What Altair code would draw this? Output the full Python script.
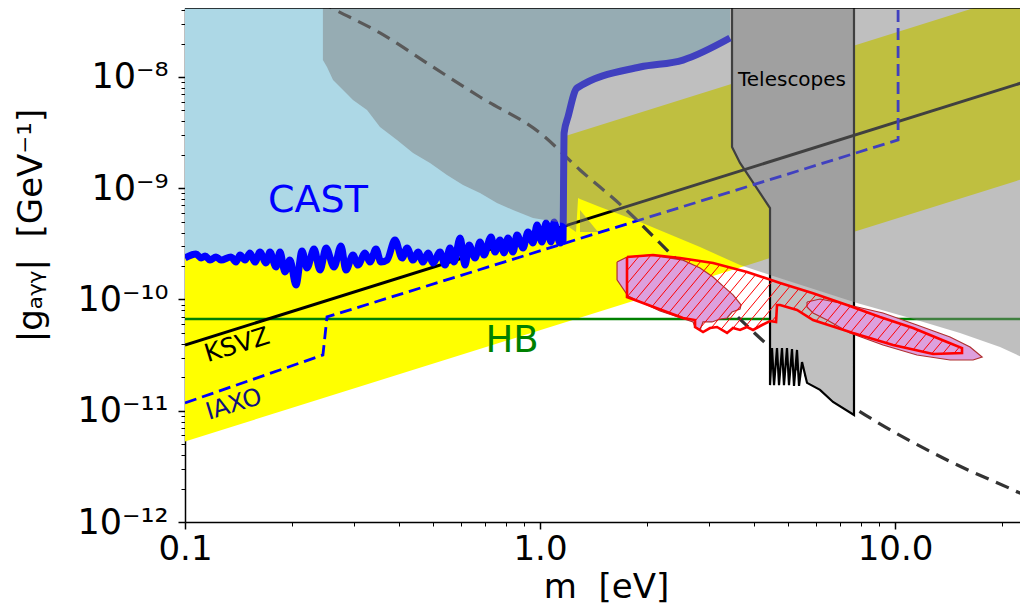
import numpy as np
import pandas as pd
import altair as alt

# ---------------- data (m in eV, g in GeV^-1) ----------------
qcd_m = [0.1, 30.0]
qcd_lo = [5.3e-12, 1.59e-9]
qcd_hi = [2.5e-10, 7.5e-8]

ksvz_m = [0.1, 30.0]
ksvz_g = [3.9e-11, 1.17e-8]

hb_m = [0.1, 30.0]
hb_g = [6.68e-11, 6.68e-11]

iaxo_m = [0.1, 0.2446, 0.2512, 10.2, 10.2]
iaxo_g = [1.175e-11, 3.17e-11, 6.97e-11, 2.72e-9, 1e-7]

cast_limit = [
    (0.1000, 2.36e-10), (0.1074, 2.56e-10), (0.1110, 2.36e-10), (0.1139, 2.46e-10),
    (0.1176, 2.26e-10), (0.1223, 2.41e-10), (0.1263, 2.26e-10), (0.1348, 2.41e-10),
    (0.1392, 2.17e-10), (0.1429, 2.51e-10), (0.1476, 2.26e-10), (0.1524, 2.62e-10),
    (0.1574, 2.17e-10), (0.1626, 2.67e-10), (0.1691, 2.13e-10), (0.1735, 2.67e-10),
    (0.1804, 1.96e-10), (0.1852, 2.67e-10), (0.1912, 1.77e-10), (0.1975, 2.26e-10),
    (0.2054, 1.35e-10), (0.2136, 2.73e-10), (0.2207, 1.92e-10), (0.2309, 2.84e-10),
    (0.2401, 1.84e-10), (0.2496, 2.90e-10), (0.2629, 1.96e-10), (0.2750, 3.03e-10),
    (0.2841, 1.84e-10), (0.2973, 2.51e-10), (0.3071, 2.04e-10), (0.3214, 2.62e-10),
    (0.3320, 2.17e-10), (0.3451, 2.84e-10), (0.3565, 2.17e-10), (0.3707, 2.26e-10),
    (0.3904, 3.43e-10), (0.4087, 2.36e-10), (0.4222, 2.90e-10), (0.4389, 2.26e-10),
    (0.4533, 2.67e-10), (0.4683, 2.17e-10), (0.4837, 2.62e-10), (0.4996, 2.13e-10),
    (0.5228, 2.67e-10), (0.5401, 2.04e-10), (0.5579, 2.90e-10), (0.5726, 2.17e-10),
    (0.5954, 3.57e-10), (0.6150, 2.04e-10), (0.6310, 3.09e-10), (0.6560, 2.36e-10),
    (0.6776, 3.29e-10), (0.6954, 2.51e-10), (0.7278, 3.65e-10), (0.7470, 2.67e-10),
    (0.7717, 3.43e-10), (0.7918, 2.62e-10), (0.8125, 3.57e-10), (0.8393, 2.67e-10),
    (0.8614, 3.80e-10), (0.8957, 2.90e-10), (0.9252, 4.04e-10), (0.9556, 3.22e-10),
    (0.9807, 4.67e-10), (1.013, 3.29e-10), (1.040, 4.87e-10), (1.074, 3.29e-10),
    (1.095, 4.97e-10), (1.138, 3.22e-10), (1.161, 3.43e-10), (1.165, 1.11e-9),
    (1.169, 3.14e-9), (1.199, 4.37e-9), (1.271, 7.96e-9), (1.913, 1.23e-8),
    (2.528, 1.42e-8), (3.429, 2.24e-8),
]

hdm_limit = [
    (0.211, 6.05e-8), (0.2528, 4.35e-8), (0.3542, 2.49e-8), (0.4996, 1.23e-8),
    (0.6776, 6.61e-9), (1.0, 3.14e-9), (1.296, 1.46e-9), (1.713, 6.79e-10),
    (2.480, 2.13e-10), (3.278, 9.30e-11), (4.445, 3.74e-11), (7.816, 1.02e-11),
    (14.01, 3.61e-12), (23.7, 1.68e-12), (27.3, 1.34e-12),
]

gray_main = [
    (0.2446, 7.45e-8), (37.8, 7.45e-8), (37.8, 1.70e-11), (23.7, 2.86e-11),
    (19.76, 3.74e-11), (15.24, 5.00e-11), (11.02, 6.82e-11), (7.816, 9.30e-11),
    (4.445, 1.66e-10), (3.659, 2.04e-10), (2.823, 2.96e-10), (1.913, 4.97e-10),
    (1.476, 6.79e-10), (1.296, 8.01e-10), (1.280, 8.17e-10), (1.263, 4.05e-10),
    (1.161, 4.87e-10), (0.9556, 5.40e-10), (0.8393, 6.37e-10), (0.7565, 7.37e-10),
    (0.6776, 9.06e-10), (0.6070, 1.07e-9), (0.547, 1.315e-9), (0.490, 1.69e-9),
    (0.4389, 2.07e-9), (0.3956, 2.72e-9), (0.3542, 3.56e-9), (0.3256, 5.05e-9),
    (0.2973, 6.21e-9), (0.2787, 7.64e-9), (0.2612, 9.40e-9), (0.2512, 1.23e-8),
    (0.2446, 1.42e-8),
]
gray_small = [(1.296, 6.37e-10), (1.457, 4.05e-10), (1.296, 4.05e-10)]

telescopes = [
    (3.474, 7.45e-8), (3.474, 2.35e-9), (3.659, 1.69e-9), (4.445, 6.64e-10),
    (4.445, 1.70e-11), (4.503, 3.66e-11), (4.562, 1.70e-11), (4.651, 3.66e-11),
    (4.712, 1.70e-11), (4.804, 3.66e-11), (4.866, 1.70e-11), (4.962, 3.66e-11),
    (5.027, 1.70e-11), (5.126, 3.59e-11), (5.193, 1.67e-11), (5.295, 3.52e-11),
    (5.365, 1.67e-11), (5.470, 2.74e-11), (5.651, 1.78e-11), (6.148, 1.54e-11),
    (6.689, 1.20e-11), (7.663, 9.16e-12), (7.663, 7.45e-8),
]

pink_1 = [
    (1.648, 2.17e-10), (1.758, 2.41e-10), (2.041, 2.51e-10), (2.528, 2.26e-10),
    (2.823, 1.92e-10), (3.072, 1.59e-10), (3.278, 1.32e-10), (3.497, 1.10e-10),
    (3.683, 8.93e-11), (3.659, 8.21e-11), (3.474, 7.72e-11), (3.364, 6.82e-11),
    (3.214, 6.68e-11), (3.052, 6.28e-11), (2.879, 6.28e-11), (2.823, 5.32e-11),
    (2.733, 5.66e-11), (2.698, 6.28e-11), (2.178, 7.88e-11), (1.770, 1.075e-10),
    (1.648, 1.50e-10),
]
pink_2 = [
    (5.651, 9.49e-11), (6.148, 1.01e-10), (7.00, 9.30e-11), (9.25, 7.56e-11),
    (11.53, 5.90e-11), (14.29, 4.60e-11), (16.27, 3.74e-11), (17.59, 3.04e-11),
    (16.59, 2.86e-11), (14.29, 2.86e-11), (11.53, 3.17e-11), (9.25, 3.90e-11),
    (7.468, 5.00e-11), (6.435, 6.54e-11), (5.875, 7.56e-11), (5.651, 8.56e-11),
]
hatched_region = [
    (1.758, 2.41e-10), (2.081, 2.51e-10), (2.480, 2.36e-10), (3.072, 2.13e-10),
    (3.829, 1.77e-10), (4.743, 1.41e-10), (5.875, 1.14e-10), (7.324, 8.93e-11),
    (9.07, 6.96e-11), (11.24, 5.54e-11), (14.01, 4.15e-11), (15.44, 3.66e-11),
    (15.44, 3.30e-11), (12.80, 3.24e-11), (9.87, 3.90e-11), (7.614, 5.00e-11),
    (5.875, 6.54e-11), (5.295, 8.05e-11), (4.743, 8.93e-11), (4.651, 8.93e-11),
    (4.622, 6.28e-11), (4.445, 6.41e-11), (4.221, 5.90e-11), (3.981, 5.32e-11),
    (3.829, 5.66e-11), (3.659, 5.32e-11), (3.497, 5.54e-11), (3.364, 5.00e-11),
    (3.151, 5.66e-11), (3.012, 5.54e-11), (2.879, 5.10e-11), (2.733, 5.66e-11),
    (2.733, 6.54e-11), (2.528, 6.82e-11), (1.758, 1.053e-10),
]

label_texts = ["CAST", "HB", "KSVZ", "IAXO", "Telescopes"]
label_m = [0.2369, 0.834, 0.1401, 0.1374, 5.126]
label_g = [6.12e-10, 3.37e-11, 3.90e-11, 1.13e-11, 8.3e-9]

x_major = [0.1, 1.0, 10.0]
x_major_labels = ["0.1", "1.0", "10.0"]
x_minor = [0.2, 0.3, 0.4, 0.5, 0.6, 0.7, 0.8, 0.9, 2.0, 3.0, 4.0, 5.0, 6.0, 7.0, 8.0, 9.0, 20.0]
y_major = [1e-12, 1e-11, 1e-10, 1e-9, 1e-8]
y_major_labels = ["10⁻¹²", "10⁻¹¹", "10⁻¹⁰", "10⁻⁹", "10⁻⁸"]
y_minor = [k * v for v in y_major for k in range(2, 10) if k * v < 4.1e-8]

# ---------------- helpers ----------------
FONT = "DejaVu Sans"
TOP = 1e-7
W, H = 835, 514
xs = alt.Scale(type="log", domain=[0.1, 22.49], nice=False)
ys = alt.Scale(type="log", domain=[1e-12, 4.17e-8], nice=False)


def poly_df(polys, close=False):
    rows = []
    for pid, poly in enumerate(polys):
        pts = list(poly) + ([poly[0]] if close else [])
        for i, (m, g) in enumerate(pts):
            rows.append({"id": pid, "i": i, "m": m, "g": g})
    return pd.DataFrame(rows)


def line_df(ms, gs):
    return pd.DataFrame({"i": range(len(ms)), "m": ms, "g": gs})


def enc(chart, **kw):
    return chart.encode(
        x=alt.X("m:Q", scale=xs),
        y=alt.Y("g:Q", scale=ys),
        **kw,
    )


# hatch lines ("/") clipped to the hatched region, computed in screen-like units
DEC_X, DEC_Y = 355.0, 111.25


def hatch_segments(poly, spacing=11.0, slope=1.2):
    pts = [(np.log10(m) * DEC_X, -np.log10(g) * DEC_Y) for m, g in poly]
    pts.append(pts[0])
    vals = [y + slope * x for x, y in pts]
    step = spacing * slope
    c = np.ceil(min(vals) / step) * step
    segs = []
    while c < max(vals):
        cross = []
        for (x1, y1), (x2, y2), v1, v2 in zip(pts[:-1], pts[1:], vals[:-1], vals[1:]):
            if (v1 - c) * (v2 - c) < 0:
                t = (c - v1) / (v2 - v1)
                cross.append((x1 + t * (x2 - x1), y1 + t * (y2 - y1)))
        cross.sort()
        for a, b in zip(cross[0::2], cross[1::2]):
            segs.append({
                "m": 10 ** (a[0] / DEC_X), "g": 10 ** (-a[1] / DEC_Y),
                "m2": 10 ** (b[0] / DEC_X), "g2": 10 ** (-b[1] / DEC_Y),
            })
        c += step
    return pd.DataFrame(segs)


# ---------------- axes ----------------
x_ticks = sorted(x_major + x_minor)
y_ticks = sorted(y_major + y_minor)
x_test = " || ".join(f"datum.value == {v!r}" for v in x_major)
y_test = " || ".join(f"datum.value == {v!r}" for v in y_major)
x_label_expr = " : ".join(f"datum.value == {v!r} ? '{t}'" for v, t in zip(x_major, x_major_labels)) + " : ''"
y_label_expr = " : ".join(f"datum.value == {v!r} ? '{t}'" for v, t in zip(y_major, y_major_labels)) + " : ''"

x_axis = alt.Axis(
    values=x_ticks, labelExpr=x_label_expr, grid=False,
    tickSize={"condition": {"test": x_test, "value": 7}, "value": 4},
    tickWidth={"condition": {"test": x_test, "value": 1.5}, "value": 1},
    tickColor="black", domainColor="black", domainWidth=1.5,
    labelFont=FONT, labelFontSize=34, labelColor="black", labelPadding=3,
    labelOverlap=False, labelFlush=False,
    title="m\u00a0\u00a0[eV]", titleFont=FONT, titleFontSize=34, titleFontWeight="normal",
    titleColor="black", titleX=421, titleY=75, titleAlign="center", titleBaseline="alphabetic",
)
y_axis = alt.Axis(
    values=y_ticks, labelExpr=y_label_expr, grid=False,
    tickSize={"condition": {"test": y_test, "value": 7}, "value": 4},
    tickWidth={"condition": {"test": y_test, "value": 1.5}, "value": 1},
    tickColor="black", domainColor="black", domainWidth=1.5,
    labelFont=FONT, labelFontSize=35, labelColor="black", labelPadding=10,
    labelOverlap=False, labelFlush=False,
    title="|gₐᵧᵧ|\u00a0\u00a0[GeV⁻¹]", titleFont=FONT, titleFontSize=34,
    titleFontWeight="normal", titleColor="black",
    titleX=-144, titleY=217, titleAngle=270, titleAlign="center", titleBaseline="alphabetic",
)

# ---------------- layers ----------------
qcd = alt.Chart(pd.DataFrame({"m": qcd_m, "lo": qcd_lo, "hi": qcd_hi})).mark_area(
    color="#ffff00", clip=True
).encode(
    x=alt.X("m:Q", scale=xs, axis=x_axis),
    y=alt.Y("lo:Q", scale=ys, axis=y_axis),
    y2="hi:Q",
)

cast_df = pd.DataFrame({"i": range(len(cast_limit)),
                        "m": [p[0] for p in cast_limit],
                        "g": [p[1] for p in cast_limit]})
cast_df["top"] = TOP

cast_area = alt.Chart(cast_df).mark_area(
    color="#add8e6", interpolate="monotone", clip=True
).encode(
    x=alt.X("m:Q", scale=xs),
    y=alt.Y("g:Q", scale=ys),
    y2="top:Q",
)

hb_line = enc(alt.Chart(line_df(hb_m, hb_g)).mark_line(color="#008000", strokeWidth=2.6, clip=True),
              order="i:Q")

hdm_line = enc(alt.Chart(line_df([p[0] for p in hdm_limit], [p[1] for p in hdm_limit])).mark_line(
    color="#333333", strokeWidth=3.2, strokeDash=[14, 8], interpolate="monotone", clip=True),
    order="i:Q")

tele = enc(alt.Chart(poly_df([telescopes])).mark_line(
    fill="#c0c0c0", stroke="black", strokeWidth=2.2, strokeJoin="miter", clip=True),
    order="i:Q", detail="id:N")

ksvz_line = enc(alt.Chart(line_df(ksvz_m, ksvz_g)).mark_line(color="black", strokeWidth=3, clip=True),
                order="i:Q")

iaxo_line = enc(alt.Chart(line_df(iaxo_m, iaxo_g)).mark_line(
    color="#0000ff", strokeWidth=2.8, strokeDash=[12, 6], clip=True), order="i:Q")

cast_line = enc(alt.Chart(cast_df).mark_line(
    color="#0000ff", strokeWidth=7, interpolate="monotone", clip=True), order="i:Q")

gray = enc(alt.Chart(poly_df([gray_main, gray_small])).mark_line(
    fill="#808080", fillOpacity=0.5, strokeOpacity=0, clip=True),
    order="i:Q", detail="id:N")

pink = enc(alt.Chart(poly_df([pink_1, pink_2], close=True)).mark_line(
    fill="#dda0dd", stroke="#b03030", strokeWidth=1.2, clip=True),
    order="i:Q", detail="id:N")

hatch = alt.Chart(hatch_segments(hatched_region)).mark_rule(
    color="#ff0000", strokeWidth=1, clip=True
).encode(
    x=alt.X("m:Q", scale=xs),
    y=alt.Y("g:Q", scale=ys),
    x2="m2:Q", y2="g2:Q",
)

outline = enc(alt.Chart(poly_df([hatched_region], close=True)).mark_line(
    color="#ff0000", strokeWidth=2.6, clip=True), order="i:Q", detail="id:N")

# top spine of the frame
top_spine = alt.Chart(pd.DataFrame({"k": [0]})).mark_rule(color="black", strokeWidth=1.5).encode(
    x=alt.value(0), x2=alt.value(W), y=alt.value(0)
)

label_styles = [
    dict(fontSize=38, color="#0000ff", baseline="alphabetic", angle=0),
    dict(fontSize=37, color="#008000", baseline="alphabetic", angle=0),
    dict(fontSize=25, color="black", baseline="middle", angle=343),
    dict(fontSize=24, color="#101080", baseline="middle", angle=343),
    dict(fontSize=20, color="black", baseline="alphabetic", angle=0),
]
texts = []
for t, m, g, st in zip(label_texts, label_m, label_g, label_styles):
    texts.append(
        alt.Chart(pd.DataFrame({"m": [m], "g": [g], "t": [t]})).mark_text(
            font=FONT, align="center", **st
        ).encode(
            x=alt.X("m:Q", scale=xs),
            y=alt.Y("g:Q", scale=ys),
            text="t:N",
        )
    )

chart = alt.layer(
    qcd, cast_area, hb_line, hdm_line, tele, ksvz_line, iaxo_line, cast_line,
    gray, pink, hatch, outline, top_spine, *texts
).properties(
    width=W, height=H,
    autosize=alt.AutoSizeParams(type="none"),
    padding={"left": 177, "top": 0, "right": 0, "bottom": 86},
).configure(
    font=FONT, background="white"
).configure_view(
    strokeOpacity=0
)

chart.save("out.html", embed_options={"renderer": "svg", "actions": False})
